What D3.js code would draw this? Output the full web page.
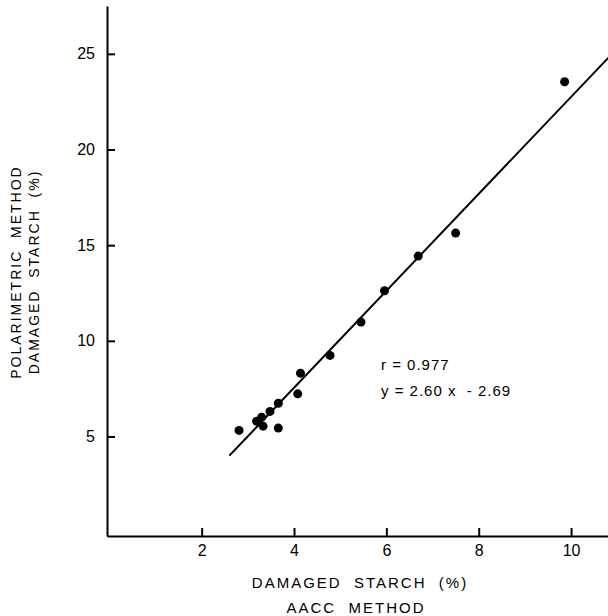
<!DOCTYPE html>
<html>
<head>
<meta charset="utf-8">
<script src="https://cdn.jsdelivr.net/npm/d3@7"></script>
<style>
  body { margin: 0; background: #fff; }
  svg text { font-family: 'Liberation Sans', Arial, sans-serif; fill: #000; }
</style>
</head>
<body>
<div class="chart"></div>
<script>
;(function () {
  // AACC method (x) vs polarimetric method (y), damaged starch %
  var aacc = [2.81, 3.19, 3.30, 3.33, 3.48, 3.66, 3.66, 4.08, 4.14, 4.78, 5.45, 5.96, 6.69, 7.50, 9.86]
  var polar = [5.32, 5.80, 6.01, 5.54, 6.31, 6.74, 5.44, 7.23, 8.31, 9.24, 10.98, 12.62, 14.43, 15.63, 23.54]
  // regression line as drawn (y = 2.60x - 2.69)
  var fitX = [2.6, 10.85]
  var fitY = [4.0, 24.9]
  var xTicks = [2, 4, 6, 8, 10]
  var yTicks = [5, 10, 15, 20, 25]
  var notes = ['r = 0.977', 'y = 2.60 x  - 2.69']

  var W = 608
  var H = 616
  var svg = d3.select('.chart').append('svg')
    .attr('width', W)
    .attr('height', H)

  var x = d3.scaleLinear().domain([-0.05, 10.8]).range([107, 608])
  var y = d3.scaleLinear().domain([-0.2, 27.5]).range([536, 6])

  // axes, ticks pointing inward
  var gx = svg.append('g')
    .attr('transform', 'translate(0,' + y(-0.2) + ')')
    .call(d3.axisBottom(x).tickValues(xTicks).tickSizeInner(-8).tickSizeOuter(0).tickPadding(9))
  var gy = svg.append('g')
    .attr('transform', 'translate(' + x(-0.05) + ',0)')
    .call(d3.axisLeft(y).tickValues(yTicks).tickSizeInner(-8).tickSizeOuter(0).tickPadding(12))

  ;[gx, gy].forEach(function (g) {
    g.select('.domain').attr('stroke', '#000').attr('stroke-width', 2)
    g.selectAll('.tick line').attr('stroke', '#000').attr('stroke-width', 2)
    g.selectAll('.tick text')
      .style('font-family', "'Liberation Sans', Arial, sans-serif")
      .attr('font-size', 16)
      .attr('fill', '#000')
  })

  // fitted line
  svg.append('line')
    .attr('x1', x(fitX[0]))
    .attr('y1', y(fitY[0]))
    .attr('x2', x(fitX[1]))
    .attr('y2', y(fitY[1]))
    .attr('stroke', '#000')
    .attr('stroke-width', 2)

  // points
  svg.selectAll('circle.pt')
    .data(aacc)
    .enter().append('circle')
    .attr('class', 'pt')
    .attr('cx', function (d) { return x(d) })
    .attr('cy', function (d, i) { return y(polar[i]) })
    .attr('r', 4.5)
    .attr('fill', '#000')

  // annotation
  svg.selectAll('text.note')
    .data(notes)
    .enter().append('text')
    .attr('class', 'note')
    .attr('x', 381)
    .attr('y', function (d, i) { return 370 + i * 26 })
    .attr('font-size', 15)
    .attr('letter-spacing', 1)
    .style('white-space', 'pre')
    .text(function (d) { return d })

  // axis titles
  var xTitle = ['DAMAGED  STARCH  (%)', 'AACC  METHOD']
  svg.selectAll('text.xt')
    .data(xTitle)
    .enter().append('text')
    .attr('class', 'xt')
    .attr('x', function (d, i) { return i ? 356 : 360 })
    .attr('y', function (d, i) { return 588 + i * 25 })
    .attr('text-anchor', 'middle')
    .attr('font-size', 15)
    .attr('letter-spacing', 2)
    .style('white-space', 'pre')
    .text(function (d) { return d })

  var yTitle = ['POLARIMETRIC  METHOD', 'DAMAGED  STARCH  (%)']
  svg.selectAll('text.yt')
    .data(yTitle)
    .enter().append('text')
    .attr('class', 'yt')
    .attr('transform', function (d, i) { return 'translate(' + (21 + i * 18) + ',272) rotate(-90)' })
    .attr('text-anchor', 'middle')
    .attr('font-size', 14)
    .attr('letter-spacing', 2)
    .style('white-space', 'pre')
    .text(function (d) { return d })
})()
</script>
</body>
</html>
